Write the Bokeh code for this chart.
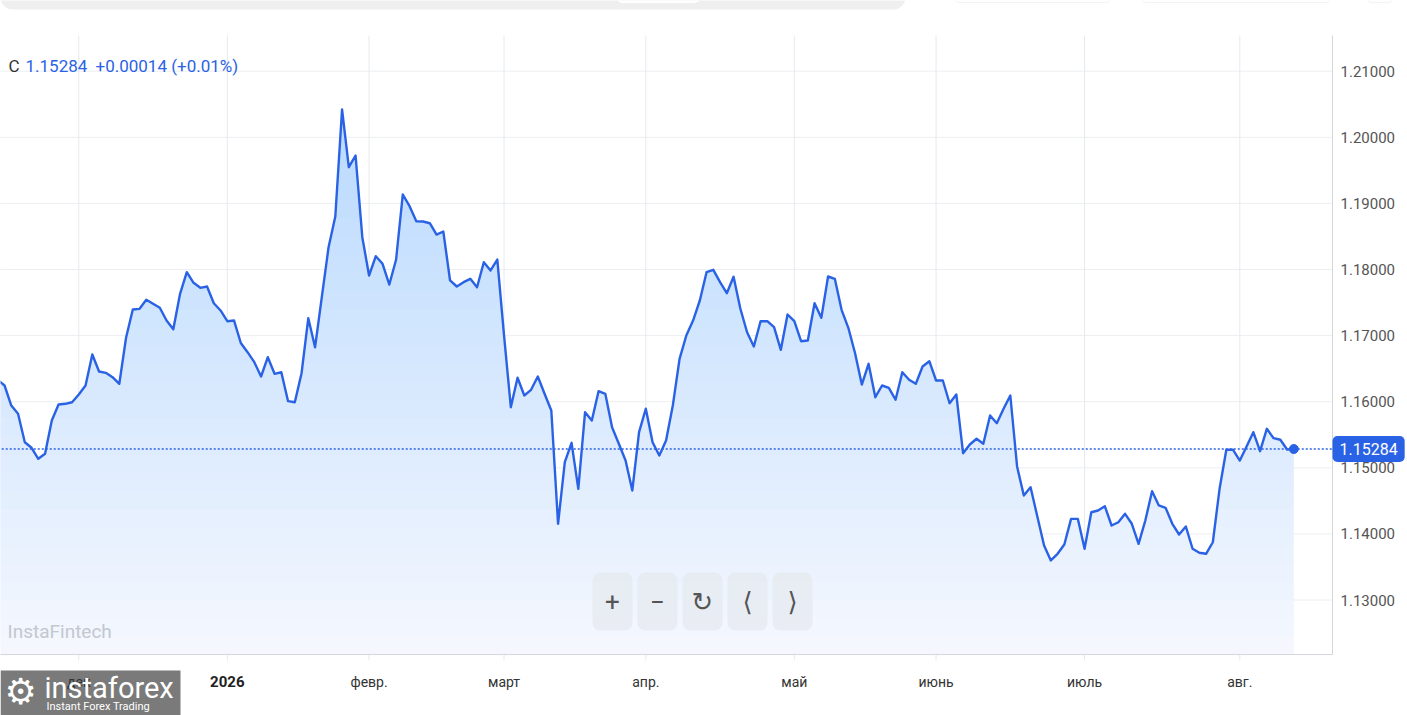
import numpy as np
from bokeh.plotting import figure
from bokeh.models import Range1d, Label, BoxAnnotation
from bokeh.core.properties import value
from bokeh.embed import file_html
from bokeh.resources import INLINE

# ---------------- data ----------------
prices = [
    1.16328, 1.16245, 1.15942, 1.15817, 1.15387, 1.15303, 1.15136, 1.15212, 1.15716, 1.15958,
    1.15968, 1.15992, 1.16109, 1.16245, 1.16714, 1.16457, 1.16437, 1.16371, 1.16271, 1.16967,
    1.17395, 1.17405, 1.17542, 1.17481, 1.17421, 1.17228, 1.17097, 1.17632, 1.17959, 1.17799,
    1.17723, 1.17743, 1.17490, 1.17380, 1.17218, 1.17228, 1.16888, 1.16749, 1.16598, 1.16381,
    1.16673, 1.16422, 1.16446, 1.16008, 1.15992, 1.16431, 1.17263, 1.16824, 1.17581, 1.18337,
    1.18802, 1.20421, 1.19548, 1.19725, 1.18489, 1.17909, 1.18201, 1.18086, 1.17773, 1.18147,
    1.19135, 1.18958, 1.18731, 1.18726, 1.18700, 1.18529, 1.18575, 1.17834, 1.17743, 1.17808,
    1.17859, 1.17732, 1.18110, 1.17985, 1.18151, 1.17001, 1.15917, 1.16362, 1.16094, 1.16180,
    1.16381, 1.16120, 1.15867, 1.14153, 1.15085, 1.15378, 1.14682, 1.15841, 1.15716, 1.16159,
    1.16120, 1.15614, 1.15363, 1.15110, 1.14657, 1.15539, 1.15893, 1.15387, 1.15186, 1.15413,
    1.15942, 1.16649, 1.17001, 1.17228, 1.17531, 1.17959, 1.17995, 1.17808, 1.17641, 1.17890,
    1.17410, 1.17051, 1.16835, 1.17218, 1.17218, 1.17127, 1.16785, 1.17319, 1.17218, 1.16915,
    1.16926, 1.17490, 1.17269, 1.17894, 1.17859, 1.17390, 1.17118, 1.16734, 1.16260, 1.16573,
    1.16068, 1.16245, 1.16210, 1.16029, 1.16446, 1.16331, 1.16271, 1.16533, 1.16613, 1.16321,
    1.16321, 1.15977, 1.16109, 1.15221, 1.15352, 1.15439, 1.15363, 1.15791, 1.15675, 1.15893,
    1.16094, 1.15020, 1.14581, 1.14707, 1.14263, 1.13824, 1.13598, 1.13699, 1.13840, 1.14228,
    1.14228, 1.13775, 1.14328, 1.14354, 1.14419, 1.14127, 1.14177, 1.14304, 1.14153, 1.13850,
    1.14203, 1.14646, 1.14430, 1.14395, 1.14153, 1.13991, 1.14112, 1.13775, 1.13714, 1.13699,
    1.13874, 1.14682, 1.15272, 1.15272, 1.15110, 1.15322, 1.15539, 1.15251, 1.15590, 1.15448,
    1.15424, 1.15277, 1.15284,
]
month_tick_idx = [12, 34, 55, 75, 96, 118, 139, 161, 184]
month_labels = ["дек", "2026", "февр.", "март", "апр.", "май", "июнь", "июль", "авг."]
year_label = "2026"
y_ticks = [1.13, 1.14, 1.15, 1.16, 1.17, 1.18, 1.19, 1.20, 1.21]
y_tick_labels = [f"{v:.5f}" for v in y_ticks]
last_price = 1.15284
close_letter = "C"
change_text = "+0.00014 (+0.01%)"
watermark = "InstaFintech"
control_symbols = ["+", "\u2212", "\u21bb", "\u27e8", "\u27e9"]
logo_name = "instaforex"
logo_tagline = "Instant Forex Trading"

# ---------------- style / layout ----------------
W, H = 1407, 715
BLUE = "#2a62e6"
FONT = "Roboto"
# full canvas ranges (plot area + axis zones)
XR = (0.4, 208.84)
YR = (1.112527, 1.220696)
# chart area inside the canvas
X_LEFT, X_RIGHT = XR[0], 197.73
Y_BOT, Y_TOP = 1.12175, 1.2154
PX_PER_Y = H / (YR[1] - YR[0])
TICK_LEN = 6 / PX_PER_Y
GRID_C = "#eceef1"
AXIS_C = "#d3d6da"

idx = list(range(len(prices)))

p = figure(width=W, height=H, x_range=Range1d(*XR), y_range=Range1d(*YR),
           output_backend="svg", toolbar_location=None,
           x_axis_location=None, y_axis_location=None,
           min_border=0, outline_line_color=None,
           background_fill_color="white", border_fill_color="white")
p.xgrid.visible = False
p.ygrid.visible = False

# top page strip (partial search bar and buttons of the page header)
p.add_layout(BoxAnnotation(left=0, right=905, bottom=H - 9, top=H + 20,
                           left_units="screen", right_units="screen",
                           bottom_units="screen", top_units="screen",
                           fill_color="#efefef", fill_alpha=1, line_alpha=0,
                           border_radius=12, level="underlay"))
p.add_layout(BoxAnnotation(left=616, right=700, bottom=H - 3, top=H + 10,
                           left_units="screen", right_units="screen",
                           bottom_units="screen", top_units="screen",
                           fill_color="white", fill_alpha=1, line_color="#dddddd",
                           border_radius=6, level="underlay"))
for l, r in [(955, 1110), (1142, 1330), (1367, 1392)]:
    p.add_layout(BoxAnnotation(left=l, right=r, bottom=H - 2, top=H + 10,
                               left_units="screen", right_units="screen",
                               bottom_units="screen", top_units="screen",
                               fill_color="white", fill_alpha=1, line_color="#d8d8d8",
                               border_radius=4, level="underlay"))

# grid lines
p.segment(x0=X_LEFT - 1, x1=X_RIGHT, y0=y_ticks, y1=y_ticks,
          line_color=GRID_C, line_width=1)
p.segment(x0=month_tick_idx, x1=month_tick_idx, y0=Y_BOT - TICK_LEN, y1=Y_TOP,
          line_color="#e6e9ee", line_width=1)

# gradient-like area fill
p.varea(x=idx, y1=Y_BOT, y2=prices, fill_color="#f4f7fe", fill_alpha=1.0)


def clip_above(xs, ys, t):
    ox, oy = [], []
    for i in range(len(xs)):
        if i > 0:
            y0, y1 = ys[i - 1], ys[i]
            if (y0 - t) * (y1 - t) < 0:
                f = (t - y0) / (y1 - y0)
                ox.append(xs[i - 1] + f * (xs[i] - xs[i - 1]))
                oy.append(t)
        ox.append(xs[i])
        oy.append(max(ys[i], t))
    return ox, oy


for t in np.linspace(Y_BOT, max(prices), 30, endpoint=False)[1:]:
    ox, oy = clip_above(idx, prices, float(t))
    p.varea(x=ox, y1=float(t), y2=oy, fill_color="#2563eb", fill_alpha=0.0075)

# axis border lines
p.segment(x0=[X_LEFT - 1, X_RIGHT], x1=[X_RIGHT, X_RIGHT],
          y0=[Y_BOT, Y_BOT], y1=[Y_BOT, Y_TOP], line_color=AXIS_C, line_width=1)

# last price dotted line, series line, end marker
p.segment(x0=[X_LEFT - 1], x1=[X_RIGHT], y0=[last_price], y1=[last_price],
          line_color=BLUE, line_dash="2 2", line_width=1.5)
p.line(idx, prices, line_color=BLUE, line_width=2.4, line_join="round")
p.scatter([idx[-1]], [prices[-1]], size=9, fill_color=BLUE, line_color=BLUE)

# right value axis labels
p.text(x=[X_RIGHT] * len(y_ticks), y=y_ticks, text=y_tick_labels, x_offset=8,
       text_font=value(FONT), text_font_size="15px", text_color="#555555",
       text_align="left", text_baseline="middle")

# logo background (under the month labels)
p.add_layout(BoxAnnotation(left=0, right=180, bottom=-5, top=45,
                           left_units="screen", right_units="screen",
                           bottom_units="screen", top_units="screen",
                           fill_color="#7a7a7a", fill_alpha=1.0, line_alpha=0,
                           level="underlay"))

# bottom month labels
m_x = [t for t, l in zip(month_tick_idx, month_labels) if l != year_label]
m_t = [l for l in month_labels if l != year_label]
p.text(x=m_x, y=[Y_BOT] * len(m_x), text=m_t, y_offset=27,
       text_font=value(FONT), text_font_size="14px", text_color="#333333",
       text_align="center", text_baseline="middle")
y_x = [t for t, l in zip(month_tick_idx, month_labels) if l == year_label]
p.text(x=y_x, y=[Y_BOT] * len(y_x), text=[year_label] * len(y_x), y_offset=27,
       text_font=value(FONT), text_font_size="15px", text_font_style="bold",
       text_color="#222222", text_align="center", text_baseline="middle")

# price tag on the value axis
p.add_layout(Label(x=X_RIGHT, y=last_price, text=f"{last_price:.5f}",
                   text_font=FONT, text_font_size="16px", text_color="white",
                   text_baseline="middle", text_align="left",
                   background_fill_color=BLUE, background_fill_alpha=1.0,
                   border_radius=5, padding=7))

# header text
p.add_layout(Label(x=8, y=H - 65, x_units="screen", y_units="screen", text=close_letter,
                   text_font=FONT, text_font_size="17px", text_color="#333333",
                   text_baseline="middle"))
p.add_layout(Label(x=25, y=H - 65, x_units="screen", y_units="screen",
                   text=f"{last_price:.5f}", text_font=FONT, text_font_size="17px",
                   text_color=BLUE, text_baseline="middle"))
p.add_layout(Label(x=95, y=H - 65, x_units="screen", y_units="screen",
                   text=change_text, text_font=FONT, text_font_size="17px",
                   text_color=BLUE, text_baseline="middle"))

# watermark
p.add_layout(Label(x=7, y=H - 631, x_units="screen", y_units="screen", text=watermark,
                   text_font=FONT, text_font_size="19px", text_color="#c3c7ce",
                   text_baseline="middle"))

# navigation controls
ctrl_left = [592, 637, 682, 727, 772]
for lft, sym in zip(ctrl_left, control_symbols):
    p.add_layout(BoxAnnotation(left=lft, right=lft + 40, bottom=H - 630, top=H - 572,
                               left_units="screen", right_units="screen",
                               bottom_units="screen", top_units="screen",
                               fill_color="#e6e9ef", fill_alpha=0.75,
                               line_alpha=0, border_radius=8))
    chevron = sym in ("\u27e8", "\u27e9")
    p.add_layout(Label(x=lft + 20, y=H - 601, x_units="screen", y_units="screen",
                       text=sym,
                       text_font="DejaVu Sans" if (chevron or sym == "\u21bb") else FONT,
                       text_font_size="26px",
                       text_color="#555555", text_align="center",
                       text_baseline="middle"))

# logo texts
p.add_layout(Label(x=4, y=H - 691, x_units="screen", y_units="screen", text="\u2699",
                   text_font="DejaVu Sans", text_font_size="36px", text_color="white",
                   text_baseline="middle"))
p.add_layout(Label(x=44, y=H - 687, x_units="screen", y_units="screen", text=logo_name,
                   text_font=FONT, text_font_size="29px", text_color="white",
                   text_baseline="middle"))
p.add_layout(Label(x=46, y=H - 706, x_units="screen", y_units="screen",
                   text=logo_tagline, text_font=FONT,
                   text_font_size="11px", text_color="white", text_baseline="middle"))

open("out.html", "w").write(file_html(p, INLINE))
